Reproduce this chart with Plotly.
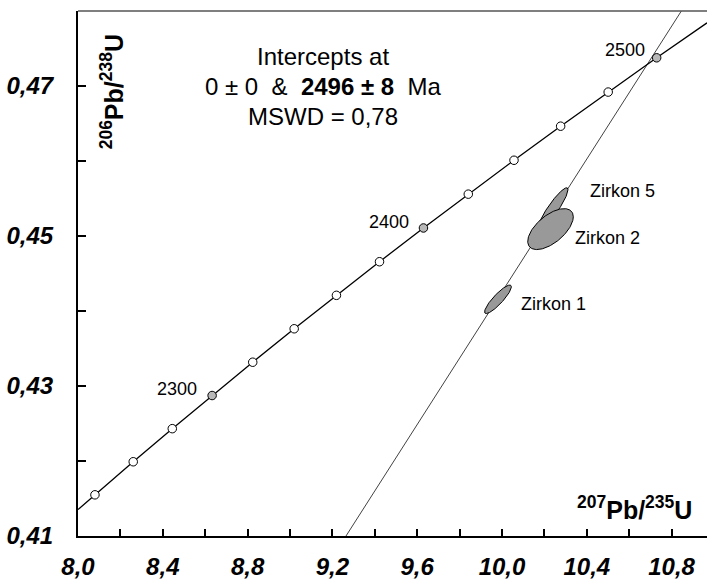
import numpy as np
import plotly.graph_objects as go

# ---- data ----
# concordia curve (207Pb/235U, 206Pb/238U), ages in Ma
conc_age = [2240, 2260, 2280, 2300, 2320, 2340, 2360, 2380, 2400, 2420, 2440, 2460, 2480, 2500]
conc_x = [8.0799, 8.2605, 8.4447, 8.6326, 8.8242, 9.0197, 9.2190, 9.4222, 9.6295, 9.8410,
          10.0566, 10.2766, 10.5009, 10.7296]
conc_y = [0.41549, 0.41990, 0.42431, 0.42873, 0.43317, 0.43763, 0.44209, 0.44657, 0.45107,
          0.45558, 0.46010, 0.46464, 0.46919, 0.47376]
# concordia line ends at plot edges
conc_line_x = [8.0] + conc_x + [10.967]
conc_line_y = [0.41352] + conc_y + [0.47842]
labelled_ages = [2300, 2400, 2500]

# discordia (through 0 and 2496 Ma)
disc_x = [9.2, 10.9]
disc_y = [0.40716, 0.48239]

# zircon error ellipses
zircon_names = ["Zirkon 5", "Zirkon 2", "Zirkon 1"]
zircon_cx = [10.2406, 10.2288, 9.981]
zircon_cy = [0.45363, 0.45092, 0.44156]
zircon_sx = [0.0708, 0.1075, 0.0632]
zircon_sy = [0.0028, 0.00273, 0.0019]
zircon_rho = [0.91, 0.60, 0.88]

# axis ticks
x_tickvals = [8.0, 8.2, 8.4, 8.6, 8.8, 9.0, 9.2, 9.4, 9.6, 9.8, 10.0, 10.2, 10.4, 10.6, 10.8]
x_ticktext = ["8,0", "", "8,4", "", "8,8", "", "9,2", "", "9,6", "", "10,0", "", "10,4", "", "10,8"]
y_tickvals = [0.41, 0.42, 0.43, 0.44, 0.45, 0.46, 0.47]
y_ticktext = ["0,41", "", "0,43", "", "0,45", "", "0,47"]

FONT = "Liberation Sans, Arial, sans-serif"

fig = go.Figure()

# discordia
fig.add_trace(go.Scatter(x=disc_x, y=disc_y, mode="lines",
                         line=dict(color="#111111", width=0.8), hoverinfo="skip"))

# ellipses
t = np.linspace(0, 2 * np.pi, 181)
for name, cx, cy, sx, sy, r in zip(zircon_names, zircon_cx, zircon_cy, zircon_sx, zircon_sy, zircon_rho):
    ex = cx + sx * np.cos(t)
    ey = cy + sy * (r * np.cos(t) + np.sqrt(1 - r * r) * np.sin(t))
    fig.add_trace(go.Scatter(x=ex, y=ey, mode="lines", fill="toself",
                             fillcolor="#999999", line=dict(color="black", width=1),
                             name=name, hoverinfo="skip"))

# concordia line
fig.add_trace(go.Scatter(x=conc_line_x, y=conc_line_y, mode="lines",
                         line=dict(color="black", width=1.3), hoverinfo="skip"))

# markers
mcol = ["#b8b8b8" if a in labelled_ages else "white" for a in conc_age]
fig.add_trace(go.Scatter(x=conc_x, y=conc_y, mode="markers",
                         marker=dict(size=8.5, color=mcol, line=dict(color="black", width=1)),
                         hoverinfo="skip"))

ann = []
def add_text(x, y, text, size, xanchor="center", angle=0, bold=False):
    ann.append(dict(x=x, y=y, xref="x", yref="y", text=text, showarrow=False,
                    xanchor=xanchor, yanchor="middle", textangle=angle,
                    font=dict(family=FONT, size=size, color="black",
                              weight="bold" if bold else "normal")))

add_text(8.467, 0.42956, "2300", 18)
add_text(9.467, 0.45183, "2400", 18)
add_text(10.579, 0.47485, "2500", 18)
add_text(10.407, 0.45596, "Zirkon 5", 18, xanchor="left")
add_text(10.336, 0.44976, "Zirkon 2", 18, xanchor="left")
add_text(10.080, 0.44089, "Zirkon 1", 18, xanchor="left")

add_text(9.156, 0.47400, "Intercepts at", 24)
add_text(9.156, 0.46990, "0 ± 0  &  <b>2496 ± 8</b>  Ma", 24)
add_text(9.156, 0.46590, "MSWD = 0,78", 24)

add_text(8.162, 0.4692, "<sup>206</sup>Pb/<sup>238</sup>U", 25, angle=-90, bold=True)
add_text(10.905, 0.4137, "<sup>207</sup>Pb/<sup>235</sup>U", 25, xanchor="right", bold=True)

tickfont = dict(family=FONT, size=24, color="black", weight="bold", style="italic")

fig.update_layout(
    width=707, height=583,
    margin=dict(l=78, r=0, t=11, b=47, autoexpand=False),
    paper_bgcolor="white", plot_bgcolor="white",
    showlegend=False,
    annotations=ann,
    xaxis=dict(range=[8.0, 10.967], tickvals=x_tickvals, ticktext=x_ticktext,
               ticks="inside", ticklen=7, tickwidth=1.5, tickcolor="black",
               showline=True, linecolor="black", linewidth=2, automargin=False,
               showgrid=False, zeroline=False, tickfont=tickfont,
               ticklabelstandoff=8),
    yaxis=dict(range=[0.41, 0.48], tickvals=y_tickvals, ticktext=y_ticktext,
               ticks="inside", ticklen=8, tickwidth=1.5, tickcolor="black",
               showline=True, linecolor="black", linewidth=2, automargin=False,
               showgrid=False, zeroline=False, tickfont=tickfont,
               ticklabelstandoff=18),
    shapes=[dict(type="line", xref="paper", yref="paper", x0=0, x1=1, y0=1, y1=1,
                 line=dict(color="#555555", width=1.5))],
)

fig.write_html("out.html")
